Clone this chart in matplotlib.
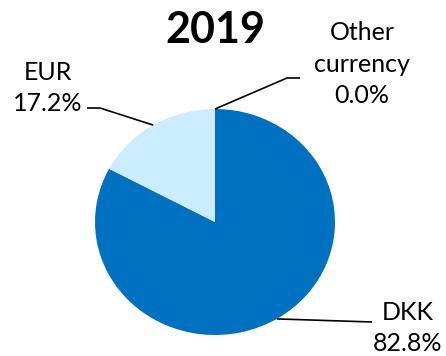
import numpy as np
import matplotlib.pyplot as plt

# Currency split of the portfolio, 2019
currencies = ["DKK", "EUR", "Other\ncurrency"]
shares = [82.8, 17.2, 0.0]
colors = ["#0070C0", "#CCECFF", "#A6A6A6"]

W, H = 446, 356
plt.rcParams["font.family"] = ["Lato", "DejaVu Sans"]

fig = plt.figure(figsize=(W / 100, H / 100), dpi=100)
# pie box in pixels: left, top, width, height (slightly wider than tall)
px_left, px_top, px_w, px_h = 95, 109, 240, 226
ax = fig.add_axes([px_left / W, 1 - (px_top + px_h) / H, px_w / W, px_h / H])
ax.pie(shares, colors=colors, startangle=90, counterclock=False, radius=1,
       wedgeprops=dict(linewidth=0))
ax.set_xlim(-1, 1)
ax.set_ylim(-1, 1)
ax.set_aspect("auto")
ax.axis("off")


def to_data(px, py):
    cx = px_left + px_w / 2
    cy = px_top + px_h / 2
    return (px - cx) / (px_w / 2), (cy - py) / (px_h / 2)


def edge_point(start_pct, pct):
    # point on the rim at the middle of a wedge
    ang = np.deg2rad(90 - 3.6 * (start_pct + pct / 2))
    return np.cos(ang), np.sin(ang)


starts = np.concatenate([[0], np.cumsum(shares)[:-1]])

# leader line elbows and label centres (pixels from top-left)
elbows = [[(372, 322)], [(100, 108), (87, 108)], [(287, 78), (300, 78)]]
label_pos = [(408, 328), (48, 88), (362, 64)]

for name, val, st, elb, (lx, ly) in zip(currencies, shares, starts, elbows, label_pos):
    x0, y0 = edge_point(st, val)
    pts = [(x0, y0)] + [to_data(*p) for p in elb]
    xs, ys = zip(*pts)
    ax.plot(xs, ys, color="black", lw=1.2, clip_on=False, solid_capstyle="butt")
    fig.text(lx / W, 1 - ly / H, f"{name}\n{val:.1f}%", ha="center", va="center",
             fontsize=18, linespacing=1.45)

fig.text(215 / W, 1 - 30 / H, "2019", ha="center", va="center",
         fontsize=31, fontweight="bold")

fig.savefig("out.png", dpi=100)
